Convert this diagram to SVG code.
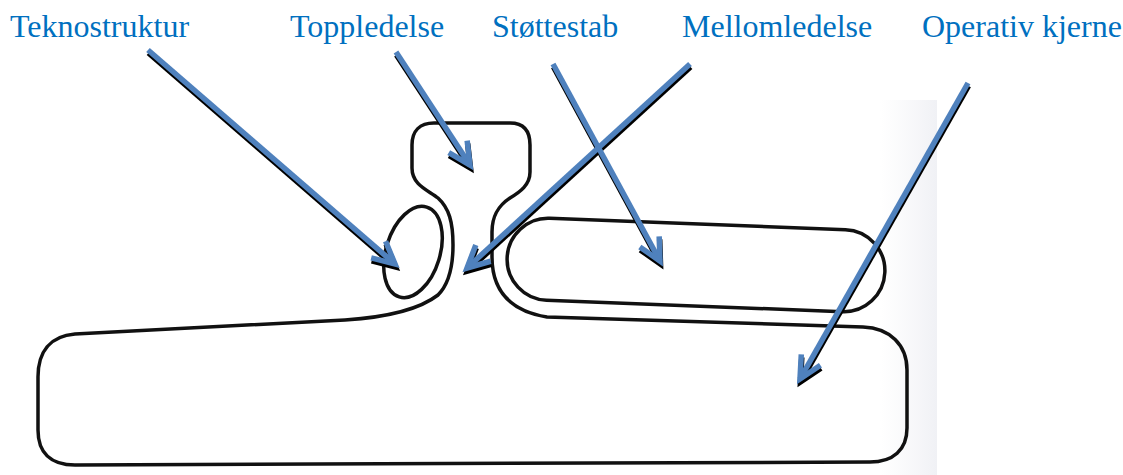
<svg xmlns="http://www.w3.org/2000/svg" width="1123" height="475" viewBox="0 0 1123 475">
  <style>
    .lbl { font-size: 32px; fill: #0070C0; }
    .outline { fill: none; stroke: #111; stroke-width: 3.5; stroke-linejoin: round; }
    .arrow { fill: none; stroke: #4F81BD; stroke-width: 5.5; marker-end: url(#headBlue); }
    .shadow { fill: none; stroke: #000; stroke-width: 5.5; marker-end: url(#headBlack); }
  </style>
  <defs>
    <marker id="headBlue" markerUnits="userSpaceOnUse" orient="auto" refX="0" refY="0" markerWidth="40" markerHeight="40" viewBox="-30 -20 40 40" overflow="visible">
      <path d="M -22,-11 L 0,0 L -22,11" fill="none" stroke="#4F81BD" stroke-width="5.5" stroke-linejoin="miter"/>
    </marker>
    <marker id="headBlack" markerUnits="userSpaceOnUse" orient="auto" refX="0" refY="0" markerWidth="40" markerHeight="40" viewBox="-30 -20 40 40" overflow="visible">
      <path d="M -22,-11 L 0,0 L -22,11" fill="none" stroke="#000" stroke-width="5.5" stroke-linejoin="miter"/>
    </marker>
    <linearGradient id="scan" x1="0" y1="0" x2="1" y2="0">
      <stop offset="0" stop-color="#f3f4f7" stop-opacity="0"/>
      <stop offset="1" stop-color="#f0f1f5" stop-opacity="1"/>
    </linearGradient>
  </defs>

  <rect width="1123" height="475" fill="#fff"/>
  <rect x="880" y="100" width="57" height="375" fill="url(#scan)"/>

  <g id="organisation">
    <path class="outline" d="M 38,400 L 38,377 C 38,352 50,336 75,334 L 345,320 C 390,317 420,309 438,295 C 449,284 453,265 453,245 C 453,222 449,208 438,198 C 428,190 412,185 412,168 L 412,145 C 412,131 420,123 434,123 L 510,123 C 524,123 530,131 530,145 L 530,172 C 530,185 520,192 510,198 C 498,206 492,216 492,232 L 492,257 C 492,285 505,310 547,317 L 863,327 C 890,328 907,345 907,370 L 907,428 C 907,450 893,462 870,462 L 75,465 C 50,465 38,452 38,430 Z"/>
  </g>
  <g id="teknostruktur">
    <ellipse class="outline" cx="413" cy="252" rx="27" ry="47" transform="rotate(17 413 252)"/>
  </g>
  <g id="mellomledelse">
    <rect class="outline" x="-189" y="-41" width="378" height="82" rx="41" ry="41" transform="translate(696 265) rotate(2.2)"/>
  </g>

  <g id="labels">
    <text class="lbl" x="10" y="37" style="font-family:'Liberation Serif','Times New Roman',Times,Tinos,'DejaVu Serif','Noto Serif',serif">Teknostruktur</text>
    <text class="lbl" x="290" y="37" style="font-family:'Liberation Serif','Times New Roman',Times,Tinos,'DejaVu Serif','Noto Serif',serif">Toppledelse</text>
    <text class="lbl" x="492" y="37" style="font-family:'Liberation Serif','Times New Roman',Times,Tinos,'DejaVu Serif','Noto Serif',serif">Støttestab</text>
    <text class="lbl" x="682" y="37" style="font-family:'Liberation Serif','Times New Roman',Times,Tinos,'DejaVu Serif','Noto Serif',serif">Mellomledelse</text>
    <text class="lbl" x="922" y="37" style="font-family:'Liberation Serif','Times New Roman',Times,Tinos,'DejaVu Serif','Noto Serif',serif">Operativ kjerne</text>
  </g>

  <g id="connectors">
    <g transform="translate(0.5 3)">
      <line class="shadow" x1="148" y1="50" x2="395" y2="264"/>
      <line class="shadow" x1="396" y1="52" x2="470" y2="165"/>
      <line class="shadow" x1="553" y1="64" x2="660" y2="261"/>
      <line class="shadow" x1="690" y1="64" x2="467" y2="268"/>
      <line class="shadow" x1="968" y1="83" x2="800" y2="379"/>
    </g>
    <line class="arrow" x1="148" y1="50" x2="395" y2="264"/>
    <line class="arrow" x1="396" y1="52" x2="470" y2="165"/>
    <line class="arrow" x1="553" y1="64" x2="660" y2="261"/>
    <line class="arrow" x1="690" y1="64" x2="467" y2="268"/>
    <line class="arrow" x1="968" y1="83" x2="800" y2="379"/>
  </g>
</svg>
